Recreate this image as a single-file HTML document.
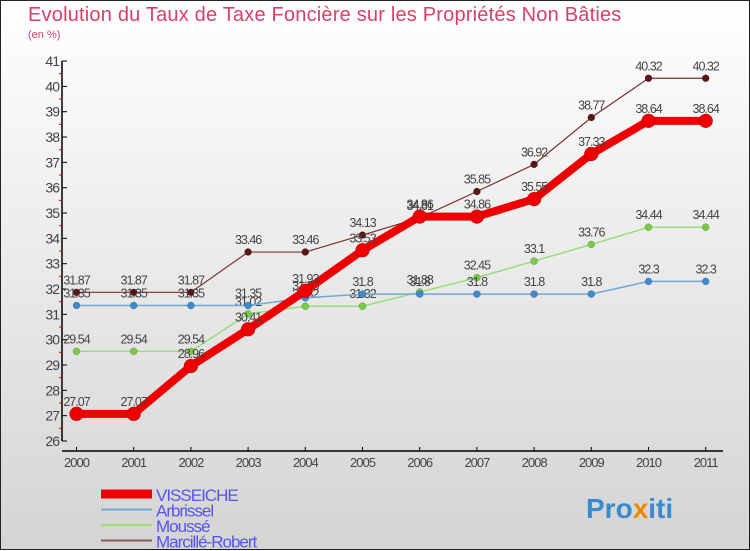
<!DOCTYPE html>
<html><head><meta charset="utf-8">
<style>
html,body{margin:0;padding:0;}
body{width:750px;height:550px;overflow:hidden;font-family:"Liberation Sans",sans-serif;}
#wrap{position:relative;width:748px;height:548px;border:1px solid #222;background:linear-gradient(#ffffff,#d4d4d4);}
#title{position:absolute;left:27px;top:3px;font-size:20px;color:#d8406a;letter-spacing:0.2px;}
#unit{position:absolute;left:27px;top:28px;font-size:11px;color:#d8406a;}
svg{position:absolute;left:0;top:0;}
</style></head>
<body>
<div id="wrap">
<div id="title">Evolution du Taux de Taxe Foncière sur les Propriétés Non Bâties</div>
<div id="unit">(en %)</div>
<svg id="chart" width="750" height="550"></svg>
</div>
<script>
const years=["2000","2001","2002","2003","2004","2005","2006","2007","2008","2009","2010","2011"];
const yTicks=[26,27,28,29,30,31,32,33,34,35,36,37,38,39,40,41];
const visseiche=[27.07,27.07,28.96,30.41,31.93,33.53,34.86,34.86,35.55,37.33,38.64,38.64];
const arbrissel=[31.35,31.35,31.35,31.35,31.65,31.8,31.8,31.8,31.8,31.8,32.3,32.3];
const mousse=[29.54,29.54,29.54,31.02,31.32,31.32,31.88,32.45,33.1,33.76,34.44,34.44];
const marcille=[31.87,31.87,31.87,33.46,33.46,34.13,34.81,35.85,36.92,38.77,40.32,40.32];
const seriesNames=["VISSEICHE","Arbrissel","Moussé","Marcillé-Robert"];

const NS="http://www.w3.org/2000/svg";
const svg=document.getElementById('chart');
const X=i=>75.5+i*57.2;
const Y=v=>440-(v-26)*25.33;
function mk(tag,attrs,parent){const e=document.createElementNS(NS,tag);for(const k in attrs)e.setAttribute(k,attrs[k]);(parent||svg).appendChild(e);return e;}
let ax=mk('line',{x1:61,y1:Y(41),x2:61,y2:Y(26),stroke:'#000','stroke-width':1.5});


let bx=mk('line',{x1:61,y1:450,x2:722,y2:450,stroke:'#000','stroke-width':1.5});


yTicks.forEach((t,i)=>{
  mk('line',{x1:61,y1:Y(t),x2:66,y2:Y(t),stroke:'#000'});
  if(i<yTicks.length-1) mk('line',{x1:58,y1:Y(t+0.5),x2:61,y2:Y(t+0.5),stroke:'#e00'});
  const tx=mk('text',{x:58,y:Y(t)+5,'text-anchor':'end','font-size':14,fill:'#444','letter-spacing':'-1'});
  tx.textContent=t;
  
  
});
years.forEach((yr,i)=>{
  mk('line',{x1:X(i),y1:446,x2:X(i),y2:450,stroke:'#000'});
  const tx=mk('text',{x:X(i),y:466,'text-anchor':'middle','font-size':13,fill:'#444','letter-spacing':'-1'});
  tx.textContent=yr;
  
  
});
function drawSeries(vals,color,dotColor,w,r,name){
  const g=mk('g',{});
  
  
  mk('polyline',{points:vals.map((v,i)=>X(i)+','+Y(v)).join(' '),fill:'none',stroke:color,'stroke-width':w,'stroke-linejoin':'round'},g);
  vals.forEach((v,i)=>{
    const c=mk('circle',{cx:X(i),cy:Y(v),r:r,fill:dotColor,stroke:'rgba(0,0,0,0.3)','stroke-width':0.5},g);
    
    
    const t=mk('text',{x:X(i),y:Y(v)-8,'text-anchor':'middle','font-size':12.5,fill:'#444','letter-spacing':'-1'},g);
    t.textContent=v;
    
    
  });
}
drawSeries(marcille,'#7a3030','#5a1515',1.2,3.5,'series-marcille-robert');
drawSeries(mousse,'#99dd77','#77cc44',1.5,3.5,'series-mousse');
drawSeries(arbrissel,'#6fa8d8','#3d8ad0',1.5,3.5,'series-arbrissel');
drawSeries(visseiche,'#ee0000','#ee0000',8,7,'series-visseiche');
const lg=[['#ee0000',9],['#6fa8d8',2],['#99dd77',2],['#8a5a5a',2]];
lg.forEach((l,i)=>{
  const y=493+i*15.5;
  const g=mk('g',{});
  
  
  mk('line',{x1:100,y1:y,x2:151,y2:y,stroke:l[0],'stroke-width':l[1]},g);
  const t=mk('text',{x:155,y:y+7,'font-size':17,fill:'#5555ee','letter-spacing':'-1'},g);
  t.textContent=seriesNames[i];
});
const lo=mk('text',{x:585,y:517,'font-size':28,'font-weight':'bold',fill:'#3a8ad0'});
lo.innerHTML='Pro<tspan fill="#ee8800">x</tspan>iti';


</script>
</body></html>
